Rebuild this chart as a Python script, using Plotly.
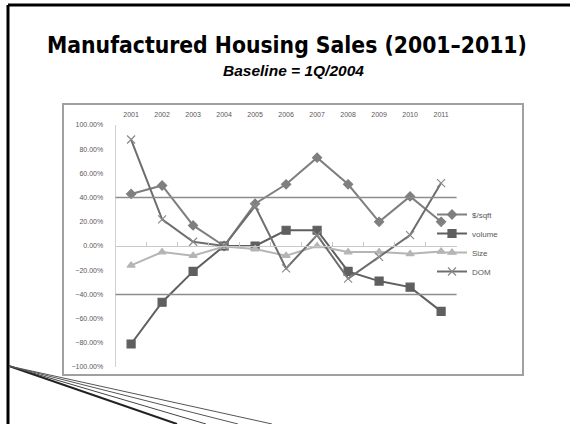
import plotly.graph_objects as go

# chart values (fraction of base year 1Q/2004)
years = ['2001', '2002', '2003', '2004', '2005', '2006', '2007', '2008', '2009', '2010', '2011']
price_sqft = [0.43, 0.50, 0.17, 0.00, 0.35, 0.51, 0.73, 0.51, 0.20, 0.41, 0.20]
volume = [-0.81, -0.465, -0.21, 0.00, 0.00, 0.13, 0.13, -0.21, -0.29, -0.34, -0.54]
size = [-0.16, -0.05, -0.08, -0.005, -0.025, -0.08, 0.00, -0.05, -0.05, -0.065, -0.045]
dom = [0.88, 0.22, 0.035, 0.00, 0.33, -0.185, 0.09, -0.27, -0.09, 0.09, 0.52]
y_ticks = [1.0, 0.8, 0.6, 0.4, 0.2, 0.0, -0.2, -0.4, -0.6, -0.8, -1.0]

W, H = 570, 424


def px_x(v):
    return v / W


def px_y(v):
    return 1 - v / H


idx = list(range(len(years)))

fig = go.Figure()

series = [
    ('$/sqft', price_sqft, '#7f7f7f', 'diamond', 7, '#7f7f7f'),
    ('volume', volume, '#5f5f5f', 'square', 8, '#5f5f5f'),
    ('Size', size, '#b5b5b5', 'triangle-up', 7, '#b5b5b5'),
    ('DOM', dom, '#6e6e6e', 'x-thin-open', 8, '#8a8a8a'),
]
for name, vals, col, sym, sz, mcol in series:
    fig.add_trace(go.Scatter(
        x=idx, y=vals, name=name, mode='lines+markers',
        line=dict(color=col, width=2),
        marker=dict(symbol=sym, size=sz, color=mcol, line=dict(color=mcol, width=1.2)),
    ))

# dummy trace so the category axis at zero gets drawn
fig.add_trace(go.Scatter(x=[None], y=[None], xaxis='x2', yaxis='y', showlegend=False, hoverinfo='skip'))

ydom = [px_y(367), px_y(125)]
xdom = [px_x(115.6), px_x(456.6)]

fig.update_layout(
    template='none',
    width=W, height=H,
    margin=dict(l=0, r=0, t=0, b=0, pad=0),
    paper_bgcolor='white', plot_bgcolor='white',
    font=dict(family='Liberation Sans, Arial, sans-serif', color='#595959'),
    xaxis=dict(domain=xdom, range=[-0.5, 10.5], tickvals=idx, ticktext=years, automargin=False,
               side='top', showline=False, showgrid=False, zeroline=False, ticks='',
               tickfont=dict(size=7, color='#595959'), ticklabelstandoff=6),
    xaxis2=dict(overlaying='x', range=[-0.5, 10.5], anchor='free', automargin=False,
                position=(ydom[0] + ydom[1]) / 2, showline=True, linecolor='#c8c8c8', linewidth=1,
                ticks='inside', ticklen=4, tickcolor='#c8c8c8',
                tickvals=[i + 0.5 for i in idx[:-1]], showticklabels=False, showgrid=False, zeroline=False),
    yaxis=dict(domain=ydom, range=[-1, 1], tickvals=y_ticks, tickformat='.2%', automargin=False,
               showline=True, linecolor='#d0d0d0', linewidth=1, showgrid=False, zeroline=False,
               ticks='', tickfont=dict(size=7, color='#595959'), ticklabelstandoff=10),
    legend=dict(x=px_x(432), y=px_y(200), xanchor='left', yanchor='top',
                font=dict(size=8, color='#595959'), bgcolor='rgba(0,0,0,0)', tracegroupgap=0),
)

fig.add_hline(y=0.4, line=dict(color='#8c8c8c', width=1.5))
fig.add_hline(y=-0.4, line=dict(color='#8c8c8c', width=1.5))

# chart frame
fig.add_shape(type='rect', xref='paper', yref='paper',
              x0=px_x(63), x1=px_x(523), y0=px_y(375), y1=px_y(104),
              line=dict(color='#a0a0a0', width=2), layer='below')

# slide border
fig.add_shape(type='line', xref='paper', yref='paper', x0=px_x(8), x1=1, y0=px_y(5), y1=px_y(5),
              line=dict(color='black', width=3))
fig.add_shape(type='line', xref='paper', yref='paper', x0=px_x(8), x1=px_x(8), y0=px_y(5), y1=0,
              line=dict(color='black', width=3))

# decorative swoosh lines in the corner
for end_x, w, c in [(177, 2, '#222222'), (206, 1, '#444444'), (238, 1, '#555555'), (272, 1, '#555555')]:
    fig.add_shape(type='line', xref='paper', yref='paper', x0=px_x(9), y0=px_y(366),
                  x1=px_x(end_x), y1=0, line=dict(color=c, width=w))

fig.add_annotation(text='<b>Manufactured Housing Sales (2001–2011)</b>', xref='paper', yref='paper',
                   x=px_x(287), y=px_y(45), yanchor='middle', showarrow=False,
                   font=dict(size=22.7, color='black', family='DejaVu Sans Condensed, Liberation Sans, sans-serif'))
fig.add_annotation(text='<b><i>Baseline = 1Q/2004</i></b>', xref='paper', yref='paper',
                   x=px_x(293), y=px_y(70), yanchor='middle', showarrow=False,
                   font=dict(size=15.5, color='black', family='Liberation Sans, Arial, sans-serif'))

# page body margin would push the figure off the window
fig.write_html('out.html', config={'displayModeBar': False},
               post_script="document.body.style.margin='0';")
